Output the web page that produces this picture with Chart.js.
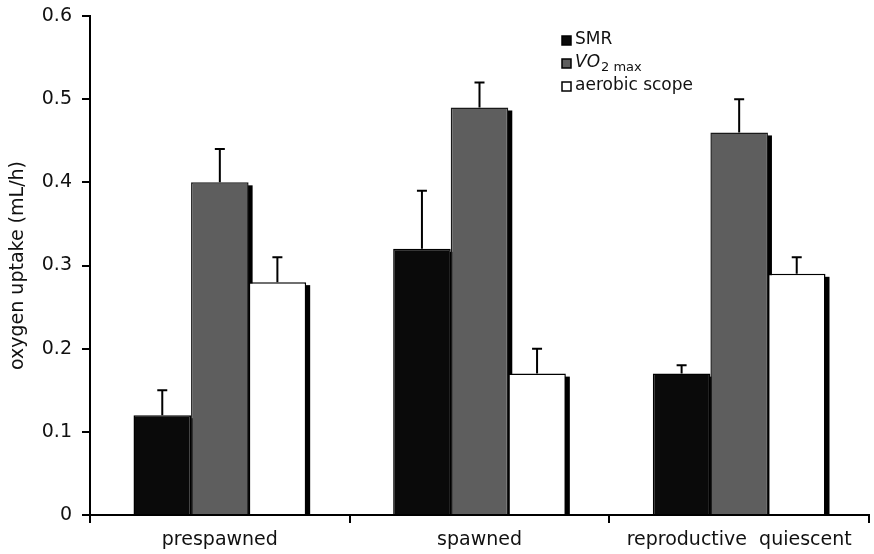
<!DOCTYPE html>
<html>
<head>
<meta charset="utf-8">
<script src="https://cdn.jsdelivr.net/npm/chart.js@4/dist/chart.umd.min.js"></script>
<style>
  html, body { margin: 0; padding: 0; background: #fff; }
  #wrap { width: 874px; height: 554px; }
</style>
</head>
<body>
<div id="wrap"><canvas id="chart" width="874" height="554"></canvas></div>
<script>
const categories = ['prespawned', 'spawned', 'reproductive  quiescent'];
const smr = [0.12, 0.32, 0.17];
const smrErr = [0.03, 0.07, 0.01];
const vo2max = [0.40, 0.49, 0.46];
const vo2maxErr = [0.04, 0.03, 0.04];
const scope = [0.28, 0.17, 0.29];
const scopeErr = [0.03, 0.03, 0.02];
const yTicks = [0, 0.1, 0.2, 0.3, 0.4, 0.5, 0.6];

const FONT = "'DejaVu Sans', Verdana, sans-serif";

// black drop shadow on the right of each bar, drawn behind the bars
const shadowPlugin = {
    id: 'barShadow',
    beforeDatasetsDraw(chart) {
        const ctx = chart.ctx;
        ctx.save();
        ctx.fillStyle = '#000';
        chart.data.datasets.forEach((ds, i) => {
            chart.getDatasetMeta(i).data.forEach(bar => {
                const right = bar.x + bar.width / 2;
                ctx.fillRect(right - 1, bar.y + 3, 5, bar.base - bar.y - 3);
            });
        });
        ctx.restore();
    }
};

// upward error bars with a small cap
const errorPlugin = {
    id: 'errorBars',
    afterDatasetsDraw(chart) {
        const ctx = chart.ctx;
        const yScale = chart.scales.y;
        ctx.save();
        ctx.strokeStyle = '#000';
        ctx.lineWidth = 2;
        chart.data.datasets.forEach((ds, i) => {
            chart.getDatasetMeta(i).data.forEach((bar, j) => {
                const top = yScale.getPixelForValue(ds.data[j] + ds.errors[j]);
                ctx.beginPath();
                ctx.moveTo(bar.x, bar.y);
                ctx.lineTo(bar.x, top);
                ctx.moveTo(bar.x - 5, top);
                ctx.lineTo(bar.x + 5, top);
                ctx.stroke();
            });
        });
        ctx.restore();
    }
};

// legend with the subscript label
const legendPlugin = {
    id: 'customLegend',
    afterDraw(chart) {
        const ctx = chart.ctx;
        const x = 562, y0 = 40, step = 23;
        ctx.save();
        ctx.textBaseline = 'middle';
        chart.data.datasets.forEach((ds, i) => {
            const y = y0 + i * step;
            ctx.fillStyle = ds.backgroundColor;
            ctx.fillRect(x, y - 4, 9, 9);
            ctx.strokeStyle = '#000';
            ctx.lineWidth = 1.5;
            ctx.strokeRect(x, y - 4, 9, 9);
            ctx.fillStyle = '#111';
            let tx = x + 13;
            if (ds.label === 'VO2 max') {
                ctx.font = 'italic 17px ' + FONT;
                ctx.fillText('VO', tx, y);
                tx += ctx.measureText('VO').width;
                ctx.font = '13px ' + FONT;
                ctx.fillText('2 max', tx + 1, y + 5);
            } else {
                ctx.font = '17px ' + FONT;
                ctx.fillText(ds.label, tx, y);
            }
        });
        ctx.restore();
    }
};

new Chart(document.getElementById('chart'), {
    type: 'bar',
    data: {
        labels: categories,
        datasets: [
            { label: 'SMR', data: smr, errors: smrErr, backgroundColor: '#0a0a0a', borderColor: '#000', borderWidth: 1.5 },
            { label: 'VO2 max', data: vo2max, errors: vo2maxErr, backgroundColor: '#5e5e5e', borderColor: '#1a1a1a', borderWidth: 1.5 },
            { label: 'aerobic scope', data: scope, errors: scopeErr, backgroundColor: '#ffffff', borderColor: '#000', borderWidth: 1.5 }
        ]
    },
    options: {
        responsive: false,
        animation: false,
        layout: { padding: { top: 16, right: 5, left: 0, bottom: 0 } },
        datasets: {
            bar: { categoryPercentage: 0.665, barPercentage: 1.0 }
        },
        plugins: {
            legend: { display: false },
            tooltip: { enabled: false }
        },
        scales: {
            x: {
                grid: { offset: true, drawOnChartArea: false, tickLength: 8, color: '#000', lineWidth: 2 },
                border: { color: '#000', width: 2 },
                ticks: { color: '#111', font: { size: 19, family: FONT }, padding: 6 },
                afterFit(scale) { scale.height = 39; }
            },
            y: {
                min: 0,
                max: 0.6,
                afterBuildTicks(scale) { scale.ticks = yTicks.map(v => ({ value: v })); },
                grid: { drawOnChartArea: false, tickLength: 8, color: '#000', lineWidth: 2 },
                border: { color: '#000', width: 2 },
                ticks: {
                    color: '#111',
                    font: { size: 19, family: FONT },
                    padding: 10,
                    callback: v => (v === 0 ? '0' : v.toFixed(1))
                },
                title: {
                    display: true,
                    text: 'oxygen uptake (mL/h)',
                    color: '#111',
                    font: { size: 19, family: FONT },
                    padding: { top: 7, bottom: 0 }
                },
                afterFit(scale) {
                    scale.width = 90;
                    scale.paddingTop = 0;
                    scale.paddingBottom = 0;
                }
            }
        }
    },
    plugins: [shadowPlugin, errorPlugin, legendPlugin]
});
</script>
</body>
</html>
